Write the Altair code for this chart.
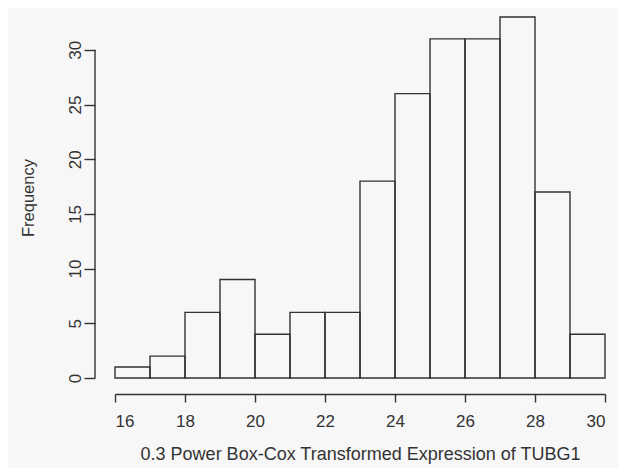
import altair as alt
import pandas as pd

bin_start = [16, 17, 18, 19, 20, 21, 22, 23, 24, 25, 26, 27, 28, 29]
bin_end = [17, 18, 19, 20, 21, 22, 23, 24, 25, 26, 27, 28, 29, 30]
counts = [1, 2, 6, 9, 4, 6, 6, 18, 26, 31, 31, 33, 17, 4]
x_ticks = [16, 18, 20, 22, 24, 26, 28, 30]
y_ticks = [0, 5, 10, 15, 20, 25, 30]

df = pd.DataFrame({"start": bin_start, "end": bin_end, "count": counts})

FONT = "Liberation Sans"
INK = "#333333"

xscale = alt.Scale(domain=[16, 30], nice=False, zero=False)
yscale = alt.Scale(domain=[0, 33], nice=False)

bars = alt.Chart(df).mark_rect(filled=False, stroke=INK, strokeWidth=1.4).encode(
    x=alt.X("start:Q", scale=xscale,
            axis=alt.Axis(values=x_ticks, title="0.3 Power Box-Cox Transformed Expression of TUBG1",
                          offset=16, grid=False, tickSize=8, tickColor=INK, domainColor=INK,
                          tickWidth=1.4, domainWidth=1.4, labelPadding=11, titlePadding=16,
                          labelFontSize=17, titleFontSize=18, labelColor=INK, titleColor=INK,
                          labelFont=FONT, titleFont=FONT, titleFontWeight="normal")),
    x2="end:Q",
    y=alt.Y("count:Q", scale=yscale,
            axis=alt.Axis(values=y_ticks, title="Frequency", offset=20, grid=False,
                          domain=False, tickSize=11, tickColor=INK, tickWidth=1.4,
                          labelAngle=270, labelPadding=0, titlePadding=30,
                          labelFontSize=17, titleFontSize=16.5, labelColor=INK, titleColor=INK,
                          labelFont=FONT, titleFont=FONT, titleFontWeight="normal")),
    y2=alt.datum(0),
)

yaxis_line = alt.Chart(pd.DataFrame({"a": [0], "b": [30]})).mark_rule(
    color=INK, strokeWidth=1.4).encode(
    x=alt.value(-20),
    y=alt.Y("a:Q", scale=yscale),
    y2="b:Q",
)

chart = alt.layer(bars, yaxis_line).properties(
    width=490, height=361,
    background="#f7f7f7",
    padding={"left": 107, "top": 9, "right": 13, "bottom": 90},
    autosize=alt.AutoSizeParams(type="none"),
).configure_view(stroke=None)

chart.save("out.html", embed_options={"renderer": "svg", "actions": False})
